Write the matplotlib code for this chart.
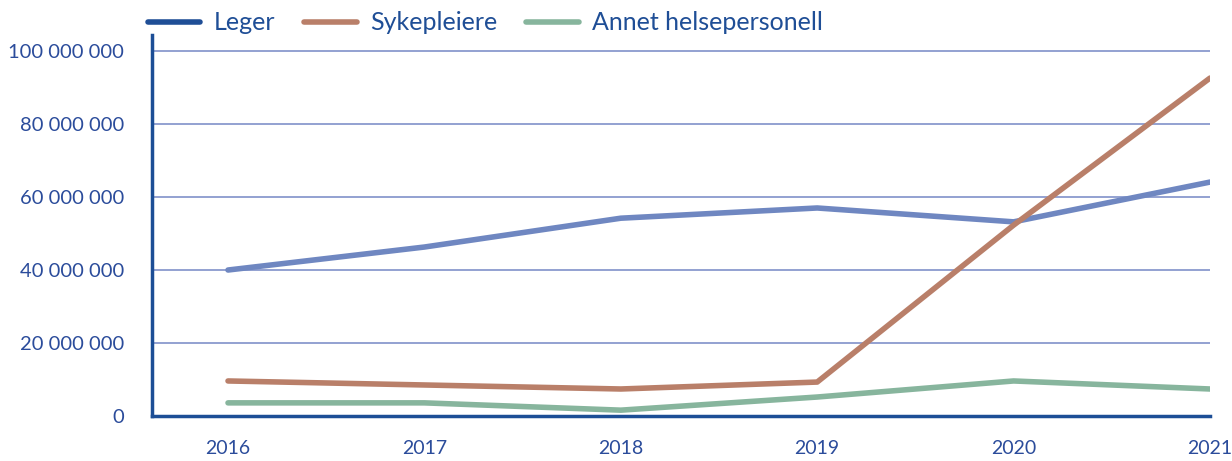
import numpy as np
import matplotlib
matplotlib.use('Agg')
import matplotlib.pyplot as plt
from matplotlib.lines import Line2D

# data
years = [2016, 2017, 2018, 2019, 2020, 2021]
leger = [40.0e6, 46.3e6, 54.2e6, 57.0e6, 53.2e6, 64.1e6]
sykepleiere = [9.6e6, 8.5e6, 7.4e6, 9.3e6, 52.3e6, 92.6e6]
annet = [3.6e6, 3.6e6, 1.6e6, 5.2e6, 9.6e6, 7.4e6]
yticks = [0, 20e6, 40e6, 60e6, 80e6, 100e6]
series_names = ['Leger', 'Sykepleiere', 'Annet helsepersonell']

txtcol = '#2b4c9b'
spinecol = '#1c4e96'
gridcol = '#8091c9'
c_leger = '#6f87c1'
c_leger_leg = '#1f4e96'
c_syk = '#b97f69'
c_annet = '#87b59d'

plt.rcParams['font.family'] = ['Lato', 'DejaVu Sans']

fig = plt.figure(figsize=(12.32, 4.61), dpi=100)
ax = fig.add_axes([152/1232, 45/461, (1210-152)/1232, (416-35)/461])

ax.plot(years, leger, color=c_leger, lw=4, solid_capstyle='round', zorder=3)
ax.plot(years, sykepleiere, color=c_syk, lw=4, solid_capstyle='round', zorder=3)
ax.plot(years, annet, color=c_annet, lw=4, solid_capstyle='round', zorder=3)

ax.set_xlim(2016 - 76/196.4, 2021)
ax.set_ylim(0, 104.4e6)
ax.set_yticks(yticks)
ax.set_yticklabels([f'{int(v):,}'.replace(',', ' ') for v in yticks])
ax.set_xticks(years)
ax.set_xticklabels([str(y) for y in years])
ax.tick_params(axis='both', length=0, labelsize=14.5, labelcolor=txtcol)
ax.tick_params(axis='y', pad=20)
ax.tick_params(axis='x', pad=17, labelsize=14)

ax.yaxis.grid(True, color=gridcol, lw=1.2)
ax.set_axisbelow(True)
for s in ['top', 'right']:
    ax.spines[s].set_visible(False)
for s in ['left', 'bottom']:
    ax.spines[s].set_color(spinecol)
    ax.spines[s].set_linewidth(2.5)

handles = [Line2D([], [], color=c, lw=4, solid_capstyle='round')
           for c in [c_leger_leg, c_syk, c_annet]]
leg = fig.legend(handles, series_names, loc='upper left', ncol=3,
                 bbox_to_anchor=(125/1232, 1.024), frameon=False,
                 fontsize=18, handlelength=2.1, columnspacing=1.15,
                 handletextpad=0.55)
for t in leg.get_texts():
    t.set_color('#1f4e96')

fig.savefig('out.png', dpi=100)
